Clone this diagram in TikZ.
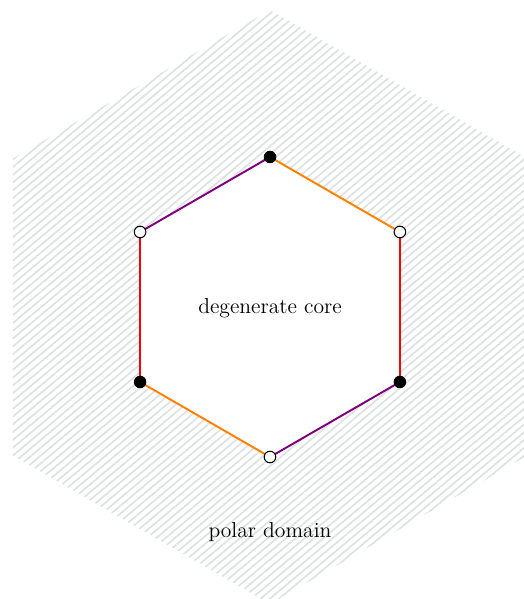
\documentclass[tikz,border=0pt]{standalone}
\usetikzlibrary{patterns.meta,calc}
\definecolor{edgepurple}{RGB}{128,0,128}
\definecolor{edgeorange}{RGB}{255,128,0}
\definecolor{edgered}{RGB}{255,0,0}
\definecolor{hatchgray}{RGB}{222,226,226}
\begin{document}
\begin{tikzpicture}[
  hatch/.style={pattern={Lines[angle=40,distance=3.4pt,line width=1pt]},pattern color=hatchgray},
  filleddot/.style={circle,fill=black,draw=black,line width=0.5pt,inner sep=0pt,minimum size=6.6pt},
  opendot/.style={circle,fill=white,draw=black,line width=0.6pt,inner sep=0pt,minimum size=6.6pt},
  edge/.style={line width=1.1pt},
  lbl/.style={font=\fontsize{12.3}{14}\selectfont}
]
\useasboundingbox (0,0) rectangle (10.48,11.98);
\coordinate (C) at (5.4,5.84);
% outer hatched hexagon
\clip (0,0) rectangle (10.48,11.98);
\path[hatch] ($(C)+(90:5.94)$) -- ($(C)+(150:5.94)$) -- ($(C)+(210:5.94)$) -- ($(C)+(270:5.94)$) -- ($(C)+(330:5.94)$) -- ($(C)+(30:5.94)$) -- cycle;
% inner white hexagon
\fill[white] ($(C)+(90:3)$) -- ($(C)+(150:3)$) -- ($(C)+(210:3)$) -- ($(C)+(270:3)$) -- ($(C)+(330:3)$) -- ($(C)+(30:3)$) -- cycle;
\coordinate (T) at ($(C)+(90:3)$);
\coordinate (UL) at ($(C)+(150:3)$);
\coordinate (LL) at ($(C)+(210:3)$);
\coordinate (B) at ($(C)+(270:3)$);
\coordinate (LR) at ($(C)+(330:3)$);
\coordinate (UR) at ($(C)+(30:3)$);
\draw[edge,edgepurple] (UL) -- (T);
\draw[edge,edgeorange] (T) -- (UR);
\draw[edge,edgered] (UR) -- (LR);
\draw[edge,edgepurple] (LR) -- (B);
\draw[edge,edgeorange] (B) -- (LL);
\draw[edge,edgered] (LL) -- (UL);
\node[filleddot] (vT) at (T) {};
\node[opendot] (vUR) at (UR) {};
\node[filleddot] (vLR) at (LR) {};
\node[opendot] (vB) at (B) {};
\node[filleddot] (vLL) at (LL) {};
\node[opendot] (vUL) at (UL) {};
\node[lbl] (core) at (5.4,5.82) {degenerate core};
\node[lbl] (polar) at (5.4,1.34) {polar domain};
\end{tikzpicture}
\end{document}
